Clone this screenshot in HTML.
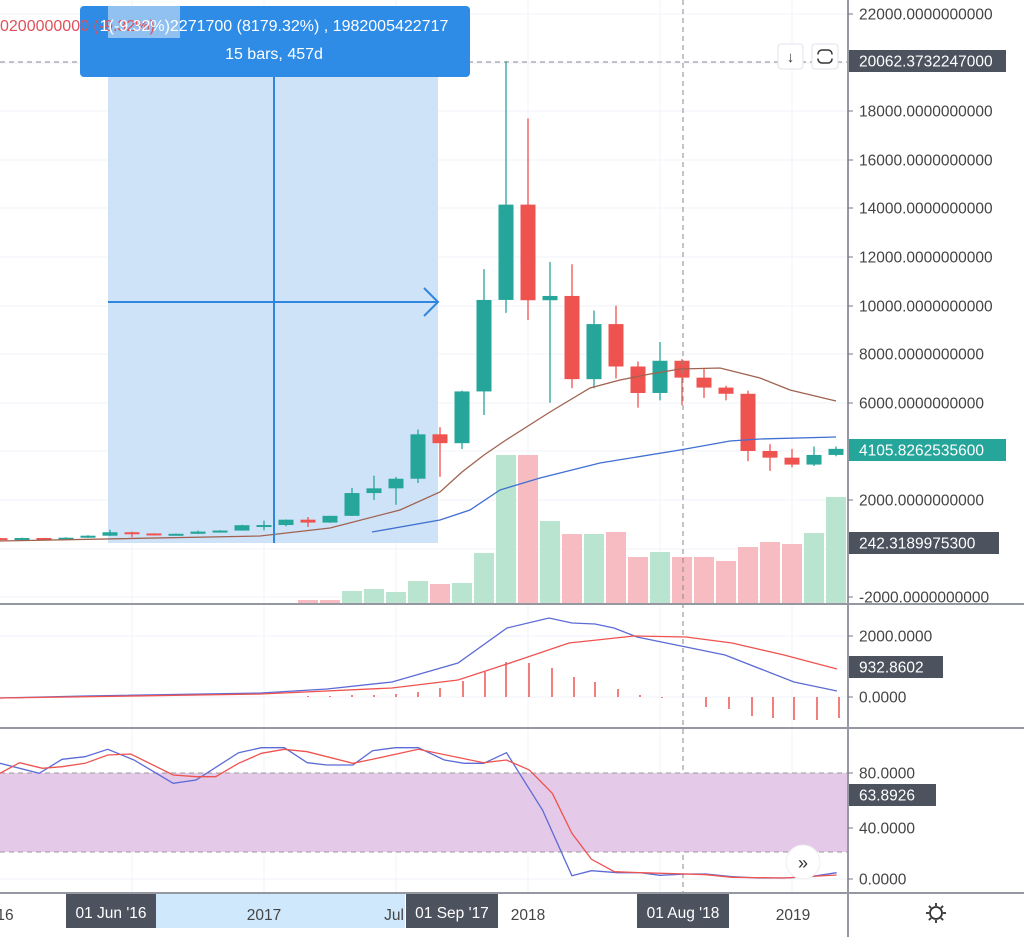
<!DOCTYPE html>
<html><head><meta charset="utf-8"><style>
html,body{margin:0;padding:0;background:#fff;}
body{width:1024px;height:937px;overflow:hidden;font-family:"Liberation Sans",sans-serif;}
</style></head><body>
<svg id="s" width="1024" height="937" xmlns="http://www.w3.org/2000/svg" font-family="Liberation Sans, sans-serif"></svg>
<script>
var o=[];
function P(s){o.push(s);}
function py(p){return 500-(p-2000)/2000*48.6;}
[14,63,111,160,208,257,306,354,403,451,500,549,597].forEach(function(y){P('<line x1="0" x2="848" y1="'+y+'" y2="'+y+'" stroke="#f0f3fa"/>');});
[636,697,773,828,879].forEach(function(y){P('<line x1="0" x2="848" y1="'+y+'" y2="'+y+'" stroke="#f0f3fa"/>');});
[132,264,396,528,660,792].forEach(function(x){P('<line x1="'+x+'" x2="'+x+'" y1="0" y2="893" stroke="#f0f3fa"/>');});
P('<rect x="108" y="62" width="330" height="481" fill="#cfe3f8"/>');
var vol=[[418,581,1],[396,592,1],[374,589,1],[352,591,1],[330,600,0],[308,600,0],[440,584,0],[462,583,1],[484,553,1],[506,455,1],[528,455,0],[550,521,1],[572,534,0],[594,534,1],[616,532,0],[638,557,0],[660,552,1],[682,557,0],[704,557,0],[726,561,0],[748,547,0],[770,542,0],[792,544,0],[814,533,1],[836,497,1]];
vol.forEach(function(v){P('<rect x="'+(v[0]-10)+'" y="'+v[1]+'" width="20" height="'+(604-v[1])+'" fill="'+(v[2]?'#b9e4cf':'#f7bcc2')+'"/>');});
var c=[[430,370,440,350],[370,437,450,365],[437,416,440,410],[416,448,470,410],[448,531,550,440],[531,673,780,520],[673,624,700,470],[624,573,630,540],[573,609,620,570],[609,700,740,600],[700,742,760,690],[742,963,980,740],
[963,970,1150,750],[970,1190,1200,920],[1190,1071,1300,890],[1071,1348,1350,1060],[1348,2286,2500,1340],[2286,2480,3000,2000],[2480,2875,2950,1800],[2875,4703,4900,2700],[4703,4338,5000,2950],[4338,6468,6500,4100],[6468,10233,11500,5500],[10233,14156,20062,9700],
[14156,10221,17700,9400],[10221,10397,11800,6000],[10397,6973,11700,6600],[6973,9240,9800,6600],[9240,7494,10000,7000],[7494,6404,7700,5800],[6404,7730,8500,6100],[7730,7035,7800,5900],[7035,6626,7400,6200],[6626,6371,6700,6100],[6371,4017,6500,3600],[4017,3742,4300,3200],[3742,3458,4100,3350],[3458,3854,4200,3400],[3854,4105,4200,3800]];
c.forEach(function(d,i){var x=22*i,up=d[1]>=d[0],col=up?'#26a69a':'#ef5350';
var t=py(Math.max(d[0],d[1])),b=py(Math.min(d[0],d[1]));if(b-t<2){b=t+2;}
P('<line x1="'+x+'" x2="'+x+'" y1="'+py(d[2])+'" y2="'+py(d[3])+'" stroke="'+col+'" stroke-width="1.3"/>');
P('<rect x="'+(x-7.5)+'" y="'+t+'" width="15" height="'+(b-t)+'" fill="'+col+'"/>');});
function L(pts,col,w){P('<polyline fill="none" stroke="'+col+'" stroke-width="'+(w||1.3)+'" points="'+pts.map(function(p){return p[0]+','+p[1];}).join(' ')+'"/>');}
L([[0,541],[260,536],[330,528],[400,510],[440,492],[462,472],[484,455],[506,440],[550,412],[590,388],[620,380],[650,374],[680,369],[720,368],[760,378],[790,390],[836,401]],'#a0624f');
L([[372,532],[440,520],[470,510],[500,490],[540,478],[600,463],[680,450],[730,441],[760,439],[836,437]],'#3f6fd1');
P('<line x1="274" x2="274" y1="72" y2="543" stroke="#2e86de" stroke-width="2"/>');
P('<line x1="108" x2="438" y1="302" y2="302" stroke="#2e86de" stroke-width="2"/>');
P('<polyline points="424,288 438,302 424,316" fill="none" stroke="#2e86de" stroke-width="2"/>');
P('<line x1="0" x2="848" y1="62" y2="62" stroke="#888" stroke-dasharray="5,4"/>');
P('<line x1="683" x2="683" y1="0" y2="893" stroke="#888" stroke-dasharray="5,4"/>');
P('<rect x="80" y="6" width="390" height="71" rx="4" fill="#2e8ce6"/>');
P('<rect x="108" y="6" width="72" height="32" fill="#9cc6f2" opacity="0.9"/>');
P('<text x="0" y="31" font-size="16" fill="#e0505a">0200000000 (-9.32%)</text>');
P('<text x="274" y="31" font-size="16" fill="#fff" text-anchor="middle">1(-9.32%)2271700 (8179.32%) , 1982005422717</text>');
P('<text x="274" y="59" font-size="16" fill="#fff" text-anchor="middle">15 bars, 457d</text>');
P('<rect x="778" y="44" width="25" height="25" rx="3" fill="#fff" stroke="#e0e3eb"/><text x="790.5" y="62" font-size="15" text-anchor="middle" fill="#333">↓</text>');
P('<rect x="812" y="44" width="26" height="25" rx="3" fill="#fff" stroke="#e0e3eb"/><rect x="818" y="50" width="14" height="13" rx="4" fill="none" stroke="#333" stroke-width="1.5"/><line x1="816" x2="834" y1="56.5" y2="56.5" stroke="#fff" stroke-width="4"/>');
var h=[[396,694],[418,692],[440,688],[463,681],[485,672],[506,662],[529,663],[552,668],[574,677],[595,682],[618,689],[640,695],[662,698],[706,707],[729,709],[752,716],[773,718],[794,720],[817,720],[839,718],[374,695],[352,695],[330,696],[308,696]];
h.forEach(function(v){P('<line x1="'+v[0]+'" x2="'+v[0]+'" y1="697" y2="'+v[1]+'" stroke="#ef5350" stroke-width="1.5"/>');});
L([[0,698],[85,696],[261,693],[327,689],[392,682],[458,663],[507,628],[549,618],[572,623],[595,624],[614,628],[637,637],[686,647],[725,655],[794,682],[837,691]],'#5c6bd6');
L([[0,698],[261,694],[392,688],[458,680],[510,663],[569,643],[634,636],[686,637],[732,643],[784,655],[837,669]],'#ef5350');
P('<rect x="0" y="773" width="848" height="79" fill="#e4c9e8"/>');
P('<line x1="0" x2="848" y1="773" y2="773" stroke="#999" stroke-dasharray="5,4"/><line x1="0" x2="848" y1="852" y2="852" stroke="#999" stroke-dasharray="5,4"/>');
function Z(a){return a.map(function(p){return [(p[0]/1.53).toFixed(1),(600+p[1]/3).toFixed(1)];});}
L(Z([[0,490],[60,520],[95,478],[130,470],[165,448],[205,480],[265,550],[300,540],[365,458],[400,443],[435,443],[470,488],[500,495],[540,495],[570,452],[605,443],[640,443],[680,480],[710,490],[740,490],[775,458],[830,630],[875,827],[905,812],[945,818],[980,818],[1010,826],[1050,822],[1080,822],[1120,830],[1160,834],[1200,834],[1240,830],[1280,818]]),'#5c6bd6');
L(Z([[0,520],[30,488],[65,505],[95,500],[130,490],[165,465],[200,462],[265,525],[300,530],[330,530],[365,490],[400,460],[435,448],[470,455],[540,490],[570,478],[640,448],[740,488],[775,480],[810,510],[845,580],[875,700],[905,778],[940,815],[980,818],[1050,822],[1080,824],[1120,832],[1200,834],[1280,825]]),'#ef5350');
P('<circle cx="803" cy="862" r="17" fill="#fff" stroke="#eee"/><text x="803" y="869" font-size="18" text-anchor="middle" fill="#333">»</text>');
P('<line x1="0" x2="1024" y1="604" y2="604" stroke="#9598a1" stroke-width="2"/>');
P('<line x1="0" x2="1024" y1="728" y2="728" stroke="#9598a1" stroke-width="2"/>');
P('<line x1="0" x2="1024" y1="893" y2="893" stroke="#9598a1" stroke-width="2"/>');
P('<line x1="848" x2="848" y1="0" y2="937" stroke="#9598a1" stroke-width="2"/>');
function AX(y,t){P('<line x1="848" x2="853" y1="'+y+'" y2="'+y+'" stroke="#777"/><text x="859" y="'+(y+5.5)+'" font-size="15.5" fill="#444">'+t+'</text>');}
function BX(y,t,bg,w){P('<rect x="849" y="'+(y-11)+'" width="'+w+'" height="22" fill="'+bg+'"/><text x="859" y="'+(y+5.5)+'" font-size="15.5" fill="#fff">'+t+'</text>');}
AX(14,'22000.0000000000');AX(111,'18000.0000000000');AX(160,'16000.0000000000');AX(208,'14000.0000000000');AX(257,'12000.0000000000');AX(306,'10000.0000000000');AX(354,'8000.0000000000');AX(403,'6000.0000000000');AX(500,'2000.0000000000');AX(597,'-2000.0000000000');
BX(61,'20062.3732247000','#4c525e',157);BX(450,'4105.8262535600','#26a69a',157);BX(543,'242.3189975300','#4c525e',150);
AX(636,'2000.0000');AX(697,'0.0000');BX(667,'932.8602','#4c525e',94);
AX(773,'80.0000');AX(828,'40.0000');AX(879,'0.0000');BX(795,'63.8926','#4c525e',87);
P('<rect x="155" y="894" width="250" height="34" fill="#cfe8fc"/>');
function T(x,t){P('<text x="'+x+'" y="920" font-size="15.5" fill="#444" text-anchor="middle">'+t+'</text>');}
T(5,'16');T(264,'2017');T(394,'Jul');T(528,'2018');T(793,'2019');
function TB(x,w,t){P('<rect x="'+x+'" y="894" width="'+w+'" height="34" fill="#4c525e"/><text x="'+(x+w/2)+'" y="918" font-size="15.5" fill="#fff" text-anchor="middle">'+t+'</text>');}
TB(66,90,"01 Jun '16");TB(406,92,"01 Sep '17");TB(637,92,"01 Aug '18");
P('<circle cx="936" cy="913" r="6" fill="none" stroke="#333" stroke-width="1.8"/>');
for(var a=0;a<8;a++){var r=a*Math.PI/4;P('<line x1="'+(936+7*Math.cos(r))+'" y1="'+(913+7*Math.sin(r))+'" x2="'+(936+10*Math.cos(r))+'" y2="'+(913+10*Math.sin(r))+'" stroke="#333" stroke-width="1.8"/>');}
document.getElementById('s').innerHTML=o.join('');
</script>
</body></html>
